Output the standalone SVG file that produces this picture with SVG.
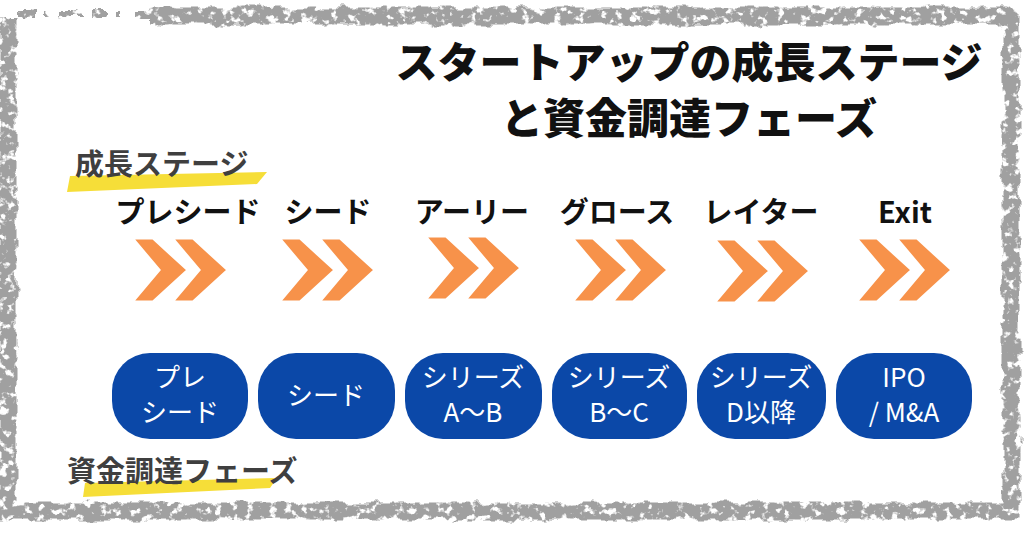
<svg xmlns="http://www.w3.org/2000/svg" xmlns:xlink="http://www.w3.org/1999/xlink" width="1024" height="538" viewBox="0 0 1024 538">
  <defs>
    <style>
      .title { font-family: "Noto Sans CJK JP", "Noto Sans", sans-serif; font-weight: 900; font-size: 42px; fill: #111; text-anchor: middle; }
      .stage { font-family: "Noto Sans CJK JP", "Noto Sans", sans-serif; font-weight: 700; font-size: 29px; fill: #111; text-anchor: middle; }
      .section { font-family: "Noto Sans CJK JP", "Noto Sans", sans-serif; font-weight: 700; font-size: 29px; fill: #3f3f3f; }
      .box { fill: #0B48A8; }
      .boxtxt { font-family: "Noto Sans CJK JP", "Noto Sans", sans-serif; font-weight: 400; font-size: 26px; fill: #fff; text-anchor: middle; }
      .chev { fill: #F7924A; stroke: #fff; stroke-width: 3; stroke-linejoin: miter; }
      .hl { fill: #F6DE38; }
      .frame { fill: none; stroke: #a0a0a0; }
    </style>
    <path id="chev" d="M0,0 H21 L56,32 L21,64 H0 L27,32 Z"/>
    <g id="dchev">
      <use xlink:href="#chev" href="#chev" class="chev" x="0" y="0"/>
      <use xlink:href="#chev" href="#chev" class="chev" x="40" y="0"/>
    </g>
    <filter id="grunge" filterUnits="userSpaceOnUse" x="-20" y="-20" width="1064" height="578">
      <feTurbulence type="fractalNoise" baseFrequency="0.06" numOctaves="3" seed="4" result="n"/>
      <feDisplacementMap in="SourceGraphic" in2="n" scale="11" xChannelSelector="R" yChannelSelector="G" result="d"/>
      <feTurbulence type="fractalNoise" baseFrequency="0.13" numOctaves="3" seed="11" result="n2"/>
      <feColorMatrix in="n2" type="matrix" values="0 0 0 0 0  0 0 0 0 0  0 0 0 0 0  7 0 0 0 -2.1" result="mask"/>
      <feComposite in="d" in2="mask" operator="in"/>
    </filter>
  </defs>

  <rect x="0" y="0" width="1024" height="538" fill="#fff"/>

  <!-- grunge frame -->
  <g id="frame" filter="url(#grunge)">
    <path class="frame" stroke-width="17" d="M150,16 H1011 V511 H830"/>
    <path class="frame" stroke-width="17" d="M830,511 H8 V18"/>
    <path class="frame" stroke-width="6" stroke-dasharray="16 9 6 12 22 8" d="M18,14 H150"/>
    <path class="frame" stroke-width="7" stroke-dasharray="20 10 7 14 26 7" d="M830,514 H1000"/>
  </g>

  <!-- title -->
  <g id="title">
    <text class="title" x="689" y="78">スタートアップの成長ステージ</text>
    <text class="title" x="689" y="134">と資金調達フェーズ</text>
  </g>

  <!-- section labels -->
  <g id="section-stage">
    <path class="hl" d="M70,176 L267,172 L257,184 L67,192 Z"/>
    <text class="section" x="75" y="175">成長ステージ</text>
  </g>
  <g id="section-funding">
    <path class="hl" d="M85,483 L277,478 L270,488 L83,497 Z"/>
    <text class="section" x="67" y="482">資金調達フェーズ</text>
  </g>

  <!-- stages -->
  <g id="stage-preseed">
    <text class="stage" x="188" y="223">プレシード</text>
  </g>
  <g id="stage-seed">
    <text class="stage" x="328" y="223">シード</text>
  </g>
  <g id="stage-early">
    <text class="stage" x="472" y="223">アーリー</text>
  </g>
  <g id="stage-growth">
    <text class="stage" x="617" y="223">グロース</text>
  </g>
  <g id="stage-later">
    <text class="stage" x="761" y="223">レイター</text>
  </g>
  <g id="stage-exit">
    <text class="stage" x="905" y="223">Exit</text>
  </g>

  <!-- chevrons -->
  <g id="connectors">
    <use xlink:href="#dchev" href="#dchev" x="132" y="238"/>
    <use xlink:href="#dchev" href="#dchev" x="279" y="238"/>
    <use xlink:href="#dchev" href="#dchev" x="425" y="236"/>
    <use xlink:href="#dchev" href="#dchev" x="572" y="238"/>
    <use xlink:href="#dchev" href="#dchev" x="714" y="239"/>
    <use xlink:href="#dchev" href="#dchev" x="856" y="238"/>
  </g>

  <!-- funding phase boxes -->
  <g id="phase-preseed">
    <rect class="box" x="112" y="353" width="136" height="86" rx="38"/>
    <text class="boxtxt" x="180" y="387">プレ</text>
    <text class="boxtxt" x="180" y="422">シード</text>
  </g>
  <g id="phase-seed">
    <rect class="box" x="258" y="353" width="137" height="86" rx="38"/>
    <text class="boxtxt" x="326" y="405">シード</text>
  </g>
  <g id="phase-a-b">
    <rect class="box" x="405" y="353" width="137" height="86" rx="38"/>
    <text class="boxtxt" x="473" y="387">シリーズ</text>
    <text class="boxtxt" x="473" y="422">A〜B</text>
  </g>
  <g id="phase-b-c">
    <rect class="box" x="552" y="353" width="135" height="86" rx="38"/>
    <text class="boxtxt" x="619" y="387">シリーズ</text>
    <text class="boxtxt" x="619" y="422">B〜C</text>
  </g>
  <g id="phase-d">
    <rect class="box" x="697" y="353" width="129" height="86" rx="38"/>
    <text class="boxtxt" x="761" y="387">シリーズ</text>
    <text class="boxtxt" x="761" y="422">D以降</text>
  </g>
  <g id="phase-ipo">
    <rect class="box" x="836" y="353" width="136" height="86" rx="38"/>
    <text class="boxtxt" x="904" y="387">IPO</text>
    <text class="boxtxt" x="904" y="422">/ M&amp;A</text>
  </g>
</svg>
